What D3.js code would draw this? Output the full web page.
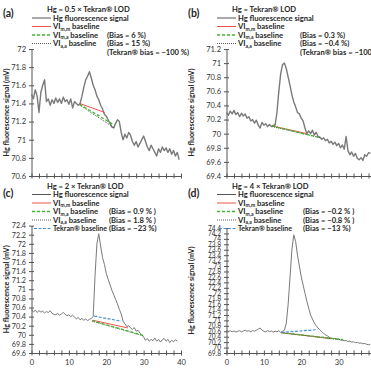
<!DOCTYPE html>
<html>
<head>
<meta charset="utf-8">
<script src="https://cdn.jsdelivr.net/npm/d3@7"></script>
<style>
body{margin:0;background:#fff}
svg{display:block}
text{font-family:Lato,'Open Sans',sans-serif;fill:#262626}
</style>
</head>
<body>
<div id="chart"></div>
<script>
/* temps d'echantillonnage (s) communs aux 4 essais */
const sampleTimes = [0,0.5,1,1.5,2,2.5,3,3.5,4,4.5,5,5.5,6,6.5,7,7.5,8,8.5,9,9.5,
  10,10.5,11,11.5,12,12.5,13,13.5,14,14.5,15,15.5,16,16.5,17,17.5,18,18.5,19,19.5,
  20,20.5,21,21.5,22,22.5,23,23.5,24,24.5,25,25.5,26,26.5,27,27.5,28,28.5,29,29.5,
  30,30.5,31,31.5,32,32.5,33,33.5,34,34.5,35,35.5,36,36.5,37,37.5,38,38.5,39,39.5];

/* signal de fluorescence Hg (mV) */
const signalA = [71.50,71.45,71.55,71.48,71.30,71.52,71.60,71.66,71.42,71.45,
  71.38,71.44,71.40,71.46,71.41,71.45,71.40,71.47,71.42,71.44,
  71.39,71.45,71.35,71.42,71.40,71.38,71.40,71.48,71.58,71.66,
  71.70,71.75,71.68,71.60,71.55,71.48,71.44,71.38,71.34,71.28,
  71.26,71.22,71.18,71.14,71.13,71.18,71.22,71.20,71.08,71.00,
  71.06,71.02,71.08,71.05,70.98,70.94,70.98,70.92,70.96,71.00,
  71.04,70.98,70.92,70.88,70.94,70.90,70.86,70.82,70.90,70.86,
  70.92,70.88,70.91,70.86,70.90,70.84,70.88,70.82,70.86,70.78];
const signalB = [70.30,70.26,70.32,70.28,70.33,70.27,70.30,70.24,70.29,70.25,
  70.28,70.22,70.24,70.18,70.20,70.15,70.19,70.12,70.08,70.16,
  70.12,70.14,70.10,70.13,70.10,70.12,70.12,70.30,70.60,70.85,
  70.98,71.00,70.92,70.80,70.68,70.55,70.45,70.38,70.30,70.28,
  70.22,70.18,70.08,70.00,70.04,70.00,70.05,69.98,70.02,69.96,
  69.95,69.92,69.94,69.90,69.92,69.87,69.89,69.85,69.88,69.83,
  69.86,69.80,69.84,69.78,69.96,69.76,69.70,69.74,69.68,69.72,
  69.65,69.63,69.66,69.62,69.70,69.68,69.73,69.72];
const signalC = [70.56,70.50,70.54,70.49,70.53,70.50,70.52,70.48,70.51,70.49,
  70.53,70.47,70.45,70.44,70.47,70.43,70.46,70.49,70.45,70.42,
  70.44,70.40,70.43,70.39,70.35,70.38,70.33,70.36,70.32,70.35,
  70.31,70.34,70.36,70.40,71.30,72.00,72.22,71.95,71.70,71.55,
  71.35,71.22,71.10,70.98,70.88,70.78,70.68,70.56,70.46,70.30,
  70.24,70.18,70.20,70.15,70.12,70.16,70.08,70.10,70.04,70.00,
  69.95,69.88,69.92,69.86,69.90,69.87,69.93,69.86,69.90,69.84,
  69.89,69.92,69.86,69.90,69.83,69.88,69.85,69.89,69.86];
const signalD = [70.63,70.60,70.62,70.58,70.61,70.57,70.60,70.62,70.58,70.61,
  70.64,70.60,70.62,70.58,70.63,70.60,70.64,70.68,70.72,70.64,
  70.60,70.58,70.62,70.59,70.61,70.57,70.60,70.58,70.62,70.56,
  70.60,70.64,70.90,71.60,72.60,73.60,74.15,73.90,73.40,73.00,
  72.60,72.30,72.00,71.70,71.45,71.20,71.05,70.90,70.80,70.72,
  70.65,70.58,70.52,70.47,70.43,70.38,70.35,70.32,70.34,70.30,
  70.31,70.28,70.27,70.25,70.26,70.22,70.24,70.20,70.21,70.18,
  70.19,70.16,70.17,70.14,70.15,70.12,70.10,70.12];

/* lignes de base : [type, t debut, mV debut, t fin, mV fin] */
const baselinesA = [["aa",12.9,71.38,22.2,71.13],["ma",12.9,71.39,22.2,71.16],["mm",12.9,71.40,19.6,71.30]];
const baselinesB = [["mm",12.2,70.11,21.5,70.00],["aa",12.2,70.10,25.3,69.94],["ma",12.2,70.11,25.3,69.94]];
const baselinesC = [["mm",16.4,70.32,25.8,70.15],["aa",16.2,70.30,29.8,69.98],["ma",16.2,70.31,29.8,69.99],["tek",16.8,70.41,24.0,70.30]];
const baselinesD = [["mm",14.7,70.55,28.0,70.33],["aa",14.7,70.54,31.2,70.28],["ma",14.7,70.55,31.2,70.29],["tek",14.7,70.56,24.4,70.66]];

/* graduations */
const xTicks = [0,2,4,6,8,10,12,14,16,18,20,22,24,26,28,30,32,34,36,38,40];
const xLabelsLeft = [0,10,20,30,40];
const xLabelsRight = [0,10,20,30];
const yTicksA = [70.6,70.8,71,71.2,71.4,71.6,71.8,72];
const yTicksB = [69.4,69.6,69.8,70,70.2,70.4,70.6,70.8,71,71.2];
const yTicksC = [69.6,69.8,70,70.2,70.4,70.6,70.8,71,71.2,71.4,71.6,71.8,72,72.2,72.4];
const yTicksD = [69.8,70,70.2,70.4,70.6,70.8,71,71.2,71.4,71.6,71.8,72,72.2,72.4,72.6,72.8,73,73.2,73.4,73.6,73.8,74,74.2,74.4];

/* textes */
const titles = ["Hg = 0.5 × Tekran® LOD","Hg = Tekran® LOD","Hg = 2 × Tekran® LOD","Hg = 4 × Tekran® LOD"];
const biasA = ["(Bias = 6 %)","(Bias = 15 %)","(Tekran® bias = −100 %)"];
const biasB = ["(Bias = 0.3 %)","(Bias = −0.4 %)","(Tekran® bias = −100 %)"];
const biasC = ["(Bias = 0.9 % )","(Bias = 1.8 % )","(Bias = −23 %)"];
const biasD = ["(Bias = −0.2 % )","(Bias = −0.8 % )","(Bias = −13 %)"];

/* styles des lignes de base */
const styles = {
  mm: {color:"#f0504a", dash:null, width:1},
  ma: {color:"#3cb92a", dash:"3,2", width:1.3},
  aa: {color:"#333333", dash:"1,1", width:0.8},
  tek:{color:"#4a8fd4", dash:"3,1.5", width:1.2}
};

const svg = d3.select("#chart").append("svg").attr("width",371).attr("height",368);

const panels = [
  {label:"(a)", ox:0, oy:0, ly:0, xr:[31.5,181], yr:[176,49], yTicks:yTicksA, signal:signalA, base:baselinesA, title:titles[0], bias:biasA, biasX:107, tekRow:false, xLabels:[], sw:1.4, yfs:7.5},
  {label:"(b)", ox:185, oy:0, ly:0, xr:[226.5,376], yr:[176,49], yTicks:yTicksB, signal:signalB, base:baselinesB, title:titles[1], bias:biasB, biasX:300, tekRow:false, xLabels:[], sw:1.4, yfs:7.5},
  {label:"(c)", ox:0, oy:180, ly:-3.5, xr:[31.5,181], yr:[353,225.6], yTicks:yTicksC, signal:signalC, base:baselinesC, title:titles[2], bias:biasC, biasX:109, tekRow:true, xLabels:xLabelsLeft, sw:1, yfs:7.2},
  {label:"(d)", ox:185, oy:180, ly:-3.5, xr:[226.5,376], yr:[353,228], yTicks:yTicksD, signal:signalD, base:baselinesD, title:titles[3], bias:biasD, biasX:303, tekRow:true, xLabels:xLabelsRight, sw:1, yfs:6.6}
];

panels.forEach(draw_panel);

/*
 * Dessine un panneau : axes, signal, lignes de base, legende
 */
function draw_panel(p){
  var g = svg.append("g");
  var x = d3.scaleLinear().domain([0,40]).range(p.xr);
  var y = d3.scaleLinear().domain([p.yTicks[0], p.yTicks[p.yTicks.length-1]]).range(p.yr);

  // axe x
  var xAxis = d3.axisBottom(x).tickValues(xTicks).tickSize(2.5).tickSizeOuter(0)
      .tickFormat(function(d){ return p.xLabels.indexOf(d) >= 0 ? d : ""; })
      .tickPadding(4);
  var gx = g.append("g").attr("transform","translate(0,"+p.yr[0]+")").call(xAxis);
  gx.selectAll(".tick line").attr("y1",-2.5);
  style_axis(gx,7.5);

  // axe y
  var yAxis = d3.axisLeft(y).tickValues(p.yTicks).tickSize(2.5).tickSizeOuter(0)
      .tickFormat(d3.format("~g")).tickPadding(3);
  var gy = g.append("g").attr("transform","translate("+p.xr[0]+",0)").call(yAxis);
  gy.selectAll(".tick line").attr("x1",2.5);
  style_axis(gy,p.yfs);

  // titre de l'axe y
  g.append("text")
    .attr("transform","translate("+(p.ox+9)+","+((p.yr[0]+p.yr[1])/2)+") rotate(-90)")
    .attr("text-anchor","middle")
    .style("font-size","7.2px").style("font-weight","bold")
    .text("Hg fluorescence signal (mV)");

  // signal
  var line = d3.line().x(function(d,i){ return x(sampleTimes[i]); }).y(function(d){ return y(d); });
  g.append("path").datum(p.signal)
    .attr("d",line)
    .attr("fill","none")
    .attr("stroke","#7a7a7a")
    .attr("stroke-width",p.sw)
    .attr("stroke-linejoin","round");

  // lignes de base
  p.base.forEach(function(b){
    var s = styles[b[0]];
    g.append("line")
      .attr("x1",x(b[1])).attr("y1",y(b[2]))
      .attr("x2",x(b[3])).attr("y2",y(b[4]))
      .attr("stroke",s.color)
      .attr("stroke-width",s.width)
      .attr("stroke-dasharray",s.dash);
  });

  draw_legend(g,p);
}

function style_axis(ga,fs){
  ga.select(".domain").attr("stroke","#555");
  ga.selectAll(".tick line").attr("stroke","#555");
  ga.selectAll(".tick text").style("font-size",fs+"px").style("fill","#333").style("font-family","Lato,'Open Sans',sans-serif");
}

/*
 * Legende en haut a gauche de chaque panneau
 */
function draw_legend(g,p){
  var ox = p.ox, oy = p.oy + p.ly;
  g.append("text").attr("x",ox+3).attr("y",p.oy+17)
    .style("font-size","10.5px").style("font-weight","bold").text(p.label);
  g.append("text").attr("x",ox+47).attr("y",oy+12)
    .style("font-size","7.6px").style("font-weight","bold").text(p.title);

  var rows = [18,26.5,35,43.5,52];
  var items = [
    {key:"sig", name:"Hg fluorescence signal"},
    {key:"mm", name:"VI", sub:"m,m"},
    {key:"ma", name:"VI", sub:"m,a", bias:p.bias[0]},
    {key:"aa", name:"VI", sub:"a,a", bias:p.bias[1]}
  ];
  if(p.tekRow) items.push({key:"tek", name:"Tekran® baseline", bias:p.bias[2], fs:7});
  else items.push({key:null, bias:p.bias[2]});

  items.forEach(function(it,i){
    var ry = oy + rows[i];
    if(it.key == "sig"){
      g.append("line").attr("x1",ox+32).attr("x2",ox+51).attr("y1",ry).attr("y2",ry)
        .attr("stroke","#555").attr("stroke-width",1);
    }
    else if(it.key){
      var s = styles[it.key];
      g.append("line").attr("x1",ox+(it.key == "tek" ? 34 : 32)).attr("x2",ox+51).attr("y1",ry).attr("y2",ry)
        .attr("stroke",s.color).attr("stroke-width",s.width).attr("stroke-dasharray",s.dash);
    }
    if(it.name){
      var t = g.append("text").attr("x",ox+53).attr("y",ry+2.6)
        .style("font-size",(it.fs || 7.6)+"px").style("font-weight","bold");
      t.append("tspan").text(it.name);
      if(it.sub){
        t.append("tspan").attr("dy",1.6).style("font-size","5px").text(it.sub);
        t.append("tspan").attr("dy",-1.6).text(" baseline");
      }
    }
    if(it.bias){
      g.append("text").attr("x",p.biasX).attr("y",ry+2.6)
        .style("font-size","7.6px").style("font-weight","bold").text(it.bias);
    }
  });
}
</script>
</body>
</html>
